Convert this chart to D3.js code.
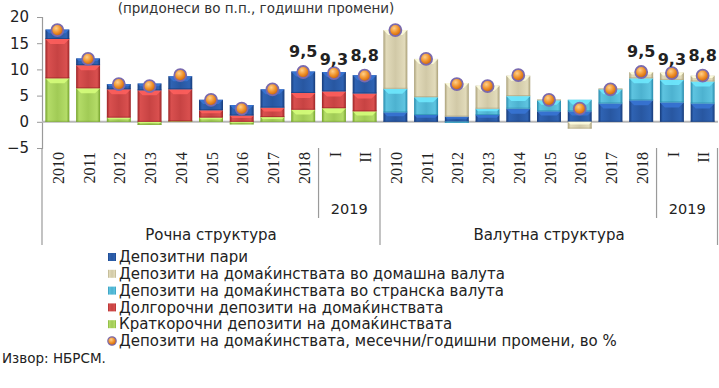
<!DOCTYPE html>
<html>
<head>
<meta charset="utf-8">
<script src="https://cdn.jsdelivr.net/npm/d3@7"></script>
<style>
  html, body { margin: 0; padding: 0; background: #fff; }
  svg { display: block; }
  text { font-family: "DejaVu Sans", Verdana, sans-serif; fill: #222; }
</style>
</head>
<body>
<script>
// Categories: years 2010–2018, then months I and II of 2019
const categories = ["2010", "2011", "2012", "2013", "2014", "2015", "2016", "2017", "2018", "I", "II"];
const subYear = "2019";
const panels = ["Рочна структура", "Валутна структура"];

// Contributions, percentage points
const depositMoney   = [1.8, 1.3, 1.0, 1.3, 2.5, 2.0, 2.0, 3.5, 4.1, 3.7, 3.5];
const longTerm       = [7.5, 4.4, 5.4, 6.0, 6.1, 1.4, 1.2, 1.8, 3.2, 3.2, 3.4];
const shortTerm      = [8.3, 6.4, 0.8, -0.6, 0.1, 0.8, -0.5, 0.9, 2.3, 2.6, 2.0];
const domesticCur    = [11.2, 7.3, 6.4, 4.4, 3.9, 0.1, -1.3, 0.1, 1.2, 1.4, 1.1];
const foreignCur     = [4.5, 3.4, -0.2, 1.2, 2.4, 2.1, 2.2, 2.7, 4.2, 4.3, 4.2];
// Household deposits, annual / monthly change, %
const householdGrowth = [17.5, 12.0, 7.2, 6.8, 8.9, 4.2, 2.5, 6.2, 9.5, 9.3, 8.8];
// Indices of points whose value is written above the marker
const labelledPoints = [8, 9, 10];
const labelLift = [15, 8, 15];

const yTicks = [-5, 0, 5, 10, 15, 20];

const seriesInfo = {
  depositMoney: { name: "Депозитни пари", c: ["#163a78", "#2f63b3"] },
  domesticCur:  { name: "Депозити на домаќинствата во домашна валута", c: ["#a99f78", "#e2dbbb"] },
  foreignCur:   { name: "Депозити на домаќинствата во странска валута", c: ["#2688aa", "#5ec4e0"] },
  longTerm:     { name: "Долгорочни депозити на домаќинствата", c: ["#9c2426", "#d9504f"] },
  shortTerm:    { name: "Краткорочни депозити на домаќинствата", c: ["#74a22c", "#b4dc68"] }
};
const growthName = "Депозити на домаќинствата, месечни/годишни промени, во %";

// Stack order per panel (bottom to top)
const panelSeries = [
  ["shortTerm", "longTerm", "depositMoney"],
  ["depositMoney", "foreignCur", "domesticCur"]
];
const seriesValues = { depositMoney, longTerm, shortTerm, domesticCur, foreignCur };

const W = 719, H = 388;
const svg = d3.select("body").append("svg").attr("width", W).attr("height", H);
const defs = svg.append("defs");

// Horizontal shading for bar segments
Object.entries(seriesInfo).forEach(([k, s]) => {
  const g = defs.append("linearGradient").attr("id", "g-" + k).attr("x1", 0).attr("x2", 1).attr("y1", 0).attr("y2", 0);
  g.append("stop").attr("offset", "0%").attr("stop-color", s.c[0]);
  g.append("stop").attr("offset", "12%").attr("stop-color", s.c[1]);
  g.append("stop").attr("offset", "50%").attr("stop-color", d3.interpolateRgb(s.c[0], s.c[1])(0.7));
  g.append("stop").attr("offset", "88%").attr("stop-color", s.c[1]);
  g.append("stop").attr("offset", "100%").attr("stop-color", s.c[0]);
});
const dotGrad = defs.append("radialGradient").attr("id", "g-dot").attr("cx", "40%").attr("cy", "35%").attr("r", "65%");
dotGrad.append("stop").attr("offset", "0%").attr("stop-color", "#ffd08a");
dotGrad.append("stop").attr("offset", "55%").attr("stop-color", "#f0922a");
dotGrad.append("stop").attr("offset", "100%").attr("stop-color", "#c8600c");

// Scales
const keys = [];
panels.forEach((p, pi) => categories.forEach(c => keys.push(pi + "|" + c)));
const x = d3.scaleBand().domain(keys).range([42, 718]).paddingInner(0.22).paddingOuter(0.11);
const step = x.step();
const y = d3.scaleLinear().domain([-5, 20]).range([148, 17]);

// Subtitle
svg.append("text").attr("x", 256).attr("y", 13).attr("text-anchor", "middle")
  .style("font-size", "13.5px").style("fill", "#333")
  .text("(придонеси во п.п., годишни промени)");

// Y axis
const yAxis = svg.append("g").attr("transform", "translate(42,0)")
  .call(d3.axisLeft(y).tickValues(yTicks).tickSize(5).tickPadding(8));
yAxis.select(".domain").attr("stroke", "#9a9a9a").attr("stroke-width", 1.2);
yAxis.selectAll(".tick line").attr("stroke", "#9a9a9a");
yAxis.selectAll(".tick text").style("font-size", "15px").style("font-family", "DejaVu Sans, sans-serif").attr("fill", "#333");

// Zero line
svg.append("line").attr("x1", 42).attr("x2", 718).attr("y1", y(0)).attr("y2", y(0))
  .attr("stroke", "#b8b8b8").attr("stroke-width", 2);

// Category axis frame lines
const frame = svg.append("g").attr("stroke", "#9a9a9a").attr("stroke-width", 1.2);
panels.forEach((p, pi) => {
  const left = x(pi + "|" + categories[0]) - step * 0.11;
  frame.append("line").attr("x1", left).attr("x2", left).attr("y1", y(-5)).attr("y2", 245);
  const sep = x(pi + "|" + categories[9]) - step * 0.11;
  frame.append("line").attr("x1", sep).attr("x2", sep).attr("y1", y(-5)).attr("y2", 218);
});
frame.append("line").attr("x1", 717.5).attr("x2", 717.5).attr("y1", y(-5)).attr("y2", 245);

// Bars
panels.forEach((p, pi) => {
  const order = panelSeries[pi];
  const rows = categories.map((c, i) => {
    const r = { key: pi + "|" + c };
    order.forEach(s => r[s] = seriesValues[s][i]);
    return r;
  });
  const stacked = d3.stack().keys(order).offset(d3.stackOffsetDiverging)(rows);
  stacked.forEach(layer => {
    const g = svg.append("g");
    layer.forEach(d => {
      const x0 = x(d.data.key), bw = x.bandwidth();
      const yt = y(Math.max(d[0], d[1])), yb = y(Math.min(d[0], d[1]));
      const h = yb - yt;
      if (h <= 0.01) return;
      g.append("rect").attr("x", x0).attr("y", yt).attr("width", bw).attr("height", h)
        .attr("fill", `url(#g-${layer.key})`);
      // top bevel highlight
      const bv = Math.min(5, h / 2.5);
      const light = d3.color(seriesInfo[layer.key].c[1]).brighter(0.5);
      g.append("path")
        .attr("d", `M${x0},${yt}L${x0 + bw},${yt}L${x0 + bw - bv},${yt + bv}L${x0 + bv},${yt + bv}Z`)
        .attr("fill", light).attr("opacity", 0.85);
      g.append("line").attr("x1", x0).attr("x2", x0 + bw).attr("y1", yb - 0.5).attr("y2", yb - 0.5)
        .attr("stroke", seriesInfo[layer.key].c[0]).attr("stroke-width", 1).attr("opacity", 0.6);
    });
  });

  // Growth markers
  const dots = svg.append("g");
  householdGrowth.forEach((v, i) => {
    const cx = x(pi + "|" + categories[i]) + x.bandwidth() / 2;
    dots.append("circle").attr("cx", cx).attr("cy", y(v)).attr("r", 6)
      .attr("fill", "url(#g-dot)").attr("stroke", "#7a6aae").attr("stroke-width", 1.8);
  });

  // Value labels
  labelledPoints.forEach((i, j) => {
    const cx = x(pi + "|" + categories[i]) + x.bandwidth() / 2;
    svg.append("text").attr("x", cx).attr("y", y(householdGrowth[i]) - labelLift[j])
      .attr("text-anchor", "middle").style("font-size", "16px").style("font-weight", "bold").attr("fill", "#111")
      .text(d3.format(".1f")(householdGrowth[i]).replace(".", ","));
  });

  // Category labels
  categories.forEach(c => {
    const cx = x(pi + "|" + c) + x.bandwidth() / 2;
    svg.append("text").attr("transform", `translate(${cx + 1},152) rotate(-90)`)
      .attr("text-anchor", "end").attr("dy", "0.35em")
      .style("font-family", "Liberation Serif, DejaVu Serif, serif").style("font-size", "16px")
      .text(c);
  });
  const subMid = (x(pi + "|I") + x(pi + "|II") + x.bandwidth()) / 2;
  svg.append("text").attr("x", subMid).attr("y", 214).attr("text-anchor", "middle")
    .style("font-size", "14.5px").text(subYear);
  const pMid = (x(pi + "|" + categories[0]) + x(pi + "|" + categories[10]) + x.bandwidth()) / 2;
  svg.append("text").attr("x", pMid).attr("y", 240).attr("text-anchor", "middle")
    .style("font-size", "15px").text(p);
});

// Legend
const legendKeys = ["depositMoney", "domesticCur", "foreignCur", "longTerm", "shortTerm"];
const lg = svg.append("g").attr("transform", "translate(107,0)");
const rowY = i => 257 + i * 16.8;
legendKeys.forEach((k, i) => {
  lg.append("rect").attr("x", 1).attr("y", rowY(i) - 4).attr("width", 8).attr("height", 8)
    .attr("fill", `url(#g-${k})`);
  lg.append("text").attr("x", 12).attr("y", rowY(i)).attr("dy", "0.35em")
    .style("font-size", "15px").text(seriesInfo[k].name);
});
lg.append("circle").attr("cx", 5).attr("cy", rowY(5)).attr("r", 4.2)
  .attr("fill", "url(#g-dot)").attr("stroke", "#7a6aae").attr("stroke-width", 1.2);
lg.append("text").attr("x", 12).attr("y", rowY(5)).attr("dy", "0.35em")
  .style("font-size", "15px").text(growthName);

// Source
svg.append("text").attr("x", 2).attr("y", 363).style("font-size", "13.5px").attr("fill", "#444")
  .text("Извор: НБРСМ.");
</script>
</body>
</html>
